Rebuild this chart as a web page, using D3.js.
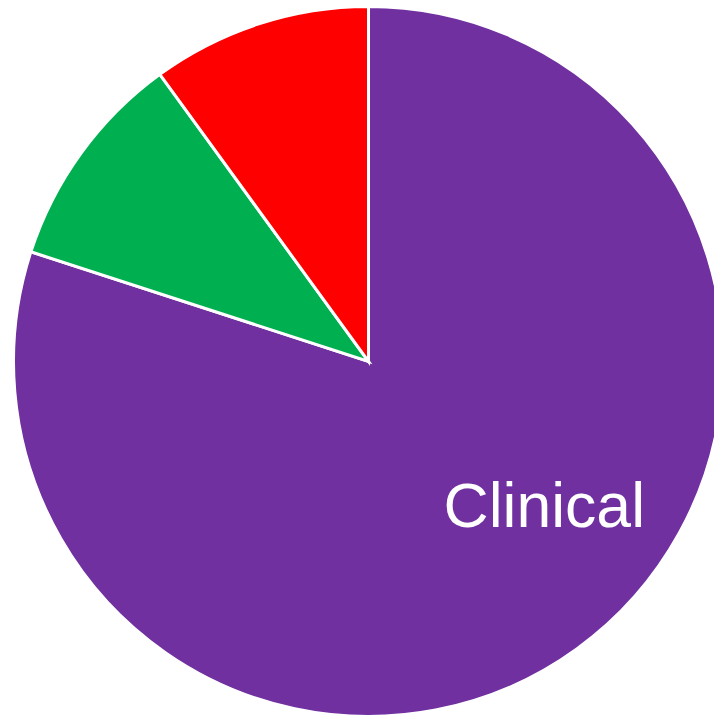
<!DOCTYPE html>
<html>
<head>
<meta charset="utf-8">
<script src="https://cdn.jsdelivr.net/npm/d3@7"></script>
<style>
  html, body { margin: 0; padding: 0; background: #fff; overflow: hidden; }
  svg { display: block; }
</style>
</head>
<body>
<svg id="svgPie" width="714" height="718"></svg>
<script>
const categories = ["Clinical", "Green", "Red"];
const values = [80, 10, 10];
const labels = ["Clinical", "", ""];
const colors = ["#7030A0", "#00B050", "#FF0000"];

const svg = d3.select('#svgPie');

const cx = 368.5, cy = 361.5, radius = 355;

const data = categories.map((c, i) => ({ name: c, value: values[i], label: labels[i], color: colors[i] }));

const pie = d3.pie()
  .sort(null)
  .value(d => d.value);

const arc = d3.arc()
  .innerRadius(0)
  .outerRadius(radius);

const g = svg.append('g')
  .attr('transform', `translate(${cx},${cy})`);

const arcs = pie(data);

g.selectAll('path.slice').data(arcs)
  .enter().append('path')
  .attr('class', 'slice')
  .attr('d', arc)
  .style('fill', d => d.data.color)
  .style('stroke', '#fff')
  .style('stroke-width', '3px')
  .style('stroke-linejoin', 'miter');

// label sits part way around the slice, at about 0.64 of the radius
g.selectAll('text.label').data(arcs.filter(d => d.data.label))
  .enter().append('text')
  .attr('class', 'label')
  .attr('transform', d => {
    const a = d.startAngle + (d.endAngle - d.startAngle) * 0.449;
    const [x, y] = d3.pointRadial(a, radius * 0.64);
    return `translate(${x},${y + 21.5})`;
  })
  .attr('text-anchor', 'middle')
  .style('font-family', '"Liberation Sans", Arial, sans-serif')
  .style('font-size', '62.5px')
  .style('fill', '#fff')
  .text(d => d.data.label);
</script>
</body>
</html>
